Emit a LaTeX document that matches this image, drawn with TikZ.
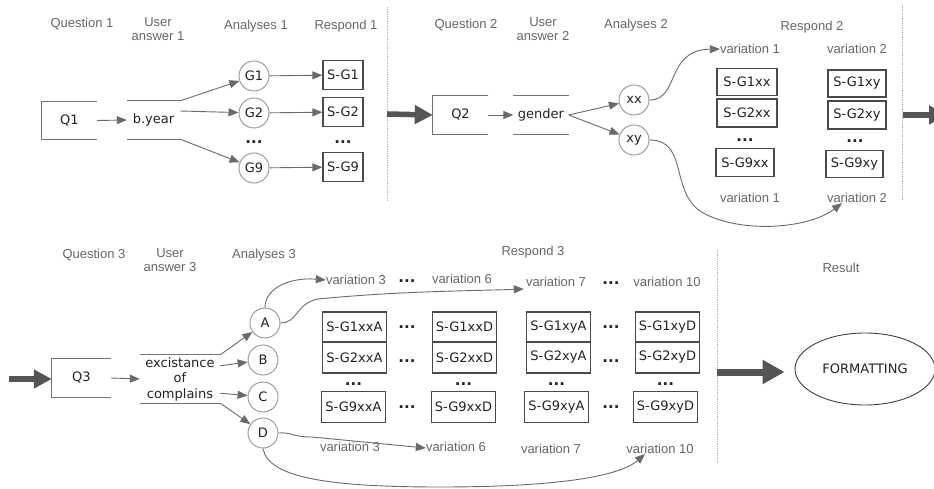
\documentclass[tikz,border=0pt]{standalone}
\usepackage{fontspec}
\setmainfont{Liberation Sans}
\newfontfamily\nodefont{DejaVu Sans}
\usetikzlibrary{arrows.meta,shapes.geometric}
\definecolor{lblgray}{HTML}{666666}
\definecolor{linegray}{HTML}{6A6A6A}
\definecolor{boxgray}{HTML}{4A4A4A}
\definecolor{txtdark}{HTML}{222222}
\definecolor{bigarrow}{HTML}{555555}

\begin{document}
\begin{tikzpicture}[x=1pt,y=-1pt,
  lbl/.style={text=lblgray, font=\fontsize{13}{14}\selectfont, align=center, inner sep=0},
  ntext/.style={text=txtdark, font=\nodefont\fontsize{13}{15}\selectfont},
  qbox/.style={ntext, minimum width=55, minimum height=38, inner sep=0},
  brk/.style={draw=black!55, line width=1pt},
  circ/.style={ntext, circle, draw=black!38, line width=1pt, fill=white, minimum size=30, inner sep=0},
  sbox/.style={ntext, rectangle, draw=boxgray, line width=1.2pt, fill=white, minimum height=29, inner sep=0},
  conn/.style={draw=linegray, line width=0.9pt, -{Triangle[length=10pt,width=8pt]}},
  big/.style={draw=bigarrow, line width=5.5pt, -{Triangle[length=18pt,width=18pt]}},
  bigger/.style={draw=bigarrow, line width=7pt, -{Triangle[length=22pt,width=23pt]}},
  sep/.style={draw=black!30, line width=0.9pt, dash pattern=on 1pt off 0.8pt},
  dots/.style={text=txtdark, font=\nodefont\bfseries\fontsize{15}{15}\selectfont, inner sep=0},
]
\useasboundingbox (0,0) rectangle (934,489);
\clip (0,0) rectangle (934,489);

% ---------- stage 1: year of birth ----------
\node[lbl] (lq1) at (82,24) {Question 1};
\node[lbl] (lu1) at (158,29) {User\\answer 1};
\node[lbl] (la1) at (256,26) {Analyses 1};
\node[lbl] (lr1) at (346,26) {Respond 1};

\node[qbox] (q1) at (69.5,120.5) {Q1};
\draw[brk] (q1.north east) -- (q1.north west) -- (q1.south west) -- (q1.south east);
\node[qbox, minimum width=53] (a1) at (153.5,120) {b.year};
\draw[brk] (a1.north west) -- (a1.north east);
\draw[brk] (a1.south west) -- (a1.south east);
\draw[conn] (q1.east) -- (a1.west);

\node[circ] (g1) at (254,76) {G1};
\node[circ] (g2) at (254,113) {G2};
\node[circ] (g9) at (254,168) {G9};
\node[dots] (gd) at (254,142) {...};
\draw[conn] (a1.north east) -- (g1);
\draw[conn] ([yshift=9pt]a1.east) -- (g2);
\draw[conn] (a1.south east) -- (g9);

\node[sbox, minimum width=40] (s1) at (343,75) {S-G1};
\node[sbox, minimum width=40] (s2) at (343,112) {S-G2};
\node[sbox, minimum width=40] (s9) at (343,167) {S-G9};
\node[dots] (sd) at (343,142) {...};
\draw[conn] (g1) -- (s1);
\draw[conn] (g2) -- (s2);
\draw[conn] (g9) -- (s9);

\draw[sep] (387,7) -- (387,200);
\coordinate (b1) at (387,114);

% ---------- stage 2: gender ----------
\node[lbl] (lq2) at (466,25) {Question 2};
\node[lbl] (lu2) at (543,29) {User\\answer 2};
\node[lbl] (la2) at (636,25) {Analyses 2};
\node[lbl] (lr2) at (812,27) {Respond 2};

\node[qbox] (q2) at (460.5,115) {Q2};
\draw[brk] (q2.north east) -- (q2.north west) -- (q2.south west) -- (q2.south east);
\node[qbox] (a2) at (541,115) {gender};
\draw[brk] (a2.north west) -- (a2.north east);
\draw[brk] (a2.south west) -- (a2.south east);
\draw[big] (b1) -- (q2.west);
\draw[conn] (q2.east) -- (a2.west);

\node[circ] (xx) at (634,100) {xx};
\node[circ] (xy) at (634,140) {xy};
\draw[conn] (a2.east) -- (xx);
\draw[conn] (a2.east) -- (xy);

\node[lbl] (v1t) at (750,49) {variation 1};
\node[lbl] (v2t) at (857,49) {variation 2};
\node[lbl] (v1b) at (750,198) {variation 1};
\node[lbl] (v2b) at (857,198) {variation 2};

\node[sbox, minimum width=60, minimum height=27] (x1) at (747,82) {S-G1xx};
\node[sbox, minimum width=60, minimum height=28] (x2) at (747,113) {S-G2xx};
\node[dots] (xd) at (745,140) {...};
\node[sbox, minimum width=58, minimum height=28] (x9) at (745,162.5) {S-G9xx};
\node[sbox, minimum width=58, minimum height=27] (y1) at (857,83.5) {S-G1xy};
\node[sbox, minimum width=58, minimum height=28] (y2) at (857,115) {S-G2xy};
\node[dots] (yd) at (855,141) {...};
\node[sbox, minimum width=57, minimum height=27] (y9) at (854.5,164) {S-G9xy};

\draw[conn] (xx.east) .. controls (680,100) and (665,50) .. (v1t.west);
\draw[conn] (xy.east) .. controls (690,140) and (668,195) .. (705,214)
  .. controls (745,234) and (810,228) .. ([xshift=-15pt]v2b.south);

\draw[sep] (902,5) -- (902,200);
\coordinate (b2) at (903,115);
\coordinate (b2end) at (947,115);
\draw[big] (b2) -- (b2end);

% ---------- stage 3: complaints ----------
\node[lbl] (lq3) at (94,255) {Question 3};
\node[lbl] (lu3) at (170,260) {User\\answer 3};
\node[lbl] (la3) at (264,255) {Analyses 3};
\node[lbl] (lr3) at (533,252) {Respond 3};

\coordinate (b3) at (9,379);
\node[qbox, minimum width=59] (q3) at (81.5,378) {Q3};
\draw[brk] (q3.north east) -- (q3.north west) -- (q3.south west) -- (q3.south east);
\node[qbox, minimum width=80, minimum height=48, align=center,
      font=\nodefont\fontsize{13}{15.5}\selectfont] (a3) at (180,379) {excistance\\of\\complains};
\draw[brk] (a3.north west) -- (a3.north east);
\draw[brk] (a3.south west) -- (a3.south east);
\draw[big] (b3) -- (b3 -| q3.west);
\draw[conn] (q3.east) -- (a3.west);

\node[circ] (ca) at (265,323) {A};
\node[circ] (cb) at (263,360) {B};
\node[circ] (cc) at (263,397) {C};
\node[circ] (cd) at (263,433) {D};
\draw[conn] (a3.north east) -- (ca);
\draw[conn] ([yshift=-11pt]a3.north east) -- (cb);
\draw[conn] ([yshift=10pt]a3.south east) -- (cc);
\draw[conn] (a3.south east) -- (cd);

% top variation labels
\node[lbl] (t3) at (356,280) {variation 3};
\node[dots] (td1) at (407,281) {...};
\node[lbl] (t6) at (462,279) {variation 6};
\node[lbl] (t7) at (556,282) {variation 7};
\node[dots] (td2) at (611,283) {...};
\node[lbl] (t10) at (667,282) {variation 10};
% bottom variation labels
\node[lbl] (u3) at (350,447) {variation 3};
\node[lbl] (u6) at (456,447) {variation 6};
\node[lbl] (u7) at (551,449) {variation 7};
\node[lbl] (u10) at (660,449) {variation 10};

% answer grid
\foreach \nm/\cx/\cxn/\suf in {pa/354.5/353.5/xxA, pb/464.5/463.5/xxD, pc/558.5/556.5/xyA, pd/667.5/665.5/xyD}{
  \node[sbox, minimum width=64, minimum height=30] (\nm1) at (\cx,327) {S-G1\suf};
  \node[sbox, minimum width=64, minimum height=31] (\nm2) at (\cx,357.5) {S-G2\suf};
  \node[dots] (\nm d) at (\cxn,384) {...};
  \node[sbox, minimum width=64, minimum height=31] (\nm9) at (\cxn,407) {S-G9\suf};
}
\foreach \dx/\nm in {407/l, 611/r}{
  \node[dots] (m\nm1) at (\dx,327) {...};
  \node[dots] (m\nm2) at (\dx,361) {...};
  \node[dots] (m\nm9) at (\dx,407) {...};
}

\draw[conn] (ca.north) .. controls (265,288) and (290,277) .. (t3.west);
\draw[conn] (ca.east) .. controls (298,323) and (296,303) .. (318,299)
  .. controls (400,291) and (470,291) .. ([xshift=-2pt,yshift=-7pt]t7.west);
\draw[conn] (cd.east) .. controls (292,432) and (292,437) .. (312,437) -- ([yshift=-1pt]u6.west);
\draw[conn] (cd.south) .. controls (268,478) and (330,487) .. (440,487)
  .. controls (560,487) and (620,476) .. ([xshift=-15pt]u10.south);

\draw[sep] (717,250) -- (717,463);

% ---------- result ----------
\node[lbl] (lres) at (841,268) {Result};
\node[ntext, ellipse, draw=black!75, line width=0.9pt, minimum width=140, minimum height=72, inner sep=0] (res) at (865,369) {FORMATTING};
\coordinate (b4) at (717,372);
\draw[bigger, shorten >=10pt] (b4) -- (b4 -| res.west);
\end{tikzpicture}
\end{document}
